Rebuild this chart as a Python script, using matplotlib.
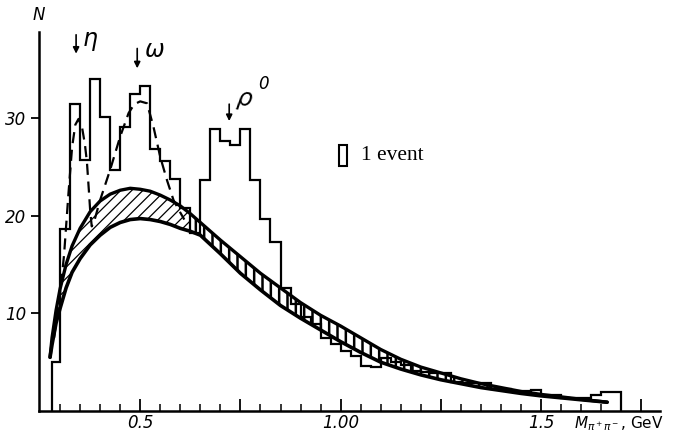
import numpy as np
import matplotlib
matplotlib.use('Agg')
from matplotlib import pyplot as plt
from matplotlib.patches import Rectangle

#--------------------------------------------
# Data
# histogram of M(pi+ pi-), bin edges in GeV
bin_edges = [0.28, 0.300, 0.325, 0.350, 0.375, 0.400, 0.425, 0.450, 0.475,
             0.500, 0.525, 0.550, 0.575, 0.600, 0.625, 0.650, 0.675, 0.700,
             0.725, 0.750, 0.775, 0.800, 0.825, 0.850, 0.875, 0.900, 0.925,
             0.950, 0.975, 1.000, 1.025, 1.050, 1.075, 1.100, 1.125, 1.150,
             1.175, 1.200, 1.225, 1.250, 1.275, 1.300, 1.325, 1.350, 1.375,
             1.400, 1.425, 1.450, 1.475, 1.500, 1.525, 1.550, 1.575, 1.600,
             1.625, 1.650, 1.675, 1.700]
counts = [5.0, 18.6, 31.4, 25.7, 34.0, 30.1, 24.7, 29.1, 32.5,
          33.3, 26.8, 25.6, 23.8, 20.8, 18.2, 23.6, 28.9, 27.6,
          27.2, 28.9, 23.6, 19.7, 17.3, 12.6, 11.0, 9.6, 8.9,
          7.5, 6.9, 6.1, 5.6, 4.6, 4.5, 5.4, 5.0, 4.7,
          4.1, 4.0, 3.9, 3.9, 3.0, 2.9, 2.9, 2.9, 2.3,
          2.3, 2.0, 2.0, 2.1, 1.6, 1.6, 1.3, 1.3, 1.3,
          1.6, 1.9, 1.9]

# phase space band (upper and lower edges)
band_m = [0.275, 0.28, 0.29, 0.30, 0.315, 0.33, 0.35, 0.375, 0.40, 0.425,
          0.45, 0.475, 0.50, 0.525, 0.55, 0.575, 0.60, 0.625, 0.65, 0.70,
          0.75, 0.80, 0.85, 0.90, 0.95, 1.00, 1.05, 1.10, 1.15, 1.20,
          1.25, 1.30, 1.35, 1.40, 1.45, 1.50, 1.55, 1.60, 1.665]
band_upper = [5.5, 7.5, 10.3, 12.5, 15.0, 16.9, 18.7, 20.4, 21.5, 22.2,
              22.6, 22.8, 22.7, 22.5, 22.1, 21.6, 21.0, 20.2, 19.3, 17.5,
              15.8, 14.1, 12.6, 11.1, 9.8, 8.7, 7.5, 6.3, 5.3, 4.5,
              3.9, 3.3, 2.8, 2.4, 2.0, 1.7, 1.45, 1.2, 0.9]
band_lower = [5.5, 6.8, 9.0, 10.5, 12.6, 14.2, 15.6, 17.0, 18.0, 18.8,
              19.3, 19.6, 19.7, 19.6, 19.4, 19.1, 18.7, 18.4, 18.0, 16.1,
              14.1, 12.4, 10.8, 9.5, 8.3, 7.1, 6.0, 5.0, 4.3, 3.7,
              3.2, 2.8, 2.4, 2.1, 1.8, 1.55, 1.35, 1.15, 0.9]

# dashed fit with eta and omega peaks
fit_m = [0.285, 0.30, 0.31, 0.321, 0.330, 0.338, 0.346, 0.355, 0.362,
         0.367, 0.372, 0.375, 0.379, 0.385, 0.40, 0.425, 0.45, 0.471,
         0.485, 0.50, 0.517, 0.533, 0.55, 0.567, 0.583, 0.596, 0.61]
fit_n = [7.5, 12.0, 16.0, 22.3, 27.0, 29.3, 29.9, 29.0, 27.3,
         25.5, 22.5, 20.6, 18.9, 19.4, 21.6, 24.7, 28.1, 30.5,
         31.4, 31.7, 31.5, 29.1, 26.0, 23.6, 21.6, 20.6, 19.6]

x_ticks_major = [0.5, 0.75, 1.0, 1.25, 1.5, 1.75]
x_tick_labels = ['0.5', '', '1.00', '', '1.5', '']
y_ticks = [10, 20, 30]

#--------------------------------------------
# Main code
if __name__ == "__main__":
    fig = plt.figure(figsize=(6.74, 4.32), dpi=100)
    ax = fig.add_axes([0.0579, 0.0486, 0.9214, 0.8773])
    ax.set_xlim(0.2475, 1.797)
    ax.set_ylim(0, 38.8)

    # histogram
    ax.stairs(counts, bin_edges, baseline=0, color='black', lw=1.6, zorder=3)

    # hatched band: thin diagonal on the left, heavier strokes on the right
    band_m_arr = np.array(band_m)
    up = np.array(band_upper)
    lo = np.array(band_lower)
    left = band_m_arr <= 0.625
    right = band_m_arr >= 0.625
    with plt.rc_context({'hatch.linewidth': 0.9}):
        h1 = ax.fill_between(band_m_arr[left], lo[left], up[left],
                             facecolor='none', edgecolor='black',
                             hatch='///', lw=0, zorder=2)
    with plt.rc_context({'hatch.linewidth': 1.8}):
        h2 = ax.fill_between(band_m_arr[right], lo[right], up[right],
                             facecolor='none', edgecolor='black',
                             hatch='||', lw=0, zorder=2)
    if hasattr(h1, 'set_hatch_linewidth'):
        h1.set_hatch_linewidth(0.9)
        h2.set_hatch_linewidth(1.8)
    ax.plot(band_m, band_upper, color='black', lw=2.4, zorder=4,
            solid_capstyle='round')
    ax.plot(band_m, band_lower, color='black', lw=2.6, zorder=4,
            solid_capstyle='round')

    # dashed fit
    ax.plot(fit_m, fit_n, color='black', lw=1.6, ls=(0, (5, 3)), zorder=4)

    # axes style
    for side in ['top', 'right']:
        ax.spines[side].set_visible(False)
    ax.spines['left'].set_linewidth(1.8)
    ax.spines['bottom'].set_linewidth(1.8)
    ax.set_xticks(x_ticks_major)
    ax.set_xticklabels(x_tick_labels, fontstyle='italic', fontsize=12)
    ax.set_xticks(np.arange(0.30, 1.76, 0.05), minor=True)
    ax.tick_params(axis='x', which='major', direction='in', length=9,
                   width=1.3, pad=2)
    ax.tick_params(axis='x', which='minor', direction='in', length=5,
                   width=1.1)
    ax.set_yticks(y_ticks)
    ax.set_yticklabels([str(v) for v in y_ticks], fontstyle='italic',
                       fontsize=12)
    ax.tick_params(axis='y', direction='out', length=6, width=1.3, pad=3)

    ax.text(1.583, -1.25, r'$M_{\pi^+\pi^-}$, GeV', fontsize=11,
            ha='left', va='center', clip_on=False)
    ax.text(0.2475, 39.6, 'N', fontsize=12, fontstyle='italic',
            ha='center', va='bottom', clip_on=False)

    # resonance markers
    arrow = dict(arrowstyle='-|>', color='black', lw=1.2, mutation_scale=9)
    ax.annotate('', xy=(0.340, 36.3), xytext=(0.340, 38.8),
                arrowprops=arrow, annotation_clip=False)
    ax.text(0.355, 37.9, r'$\eta$', fontsize=17, ha='left', va='center')
    ax.annotate('', xy=(0.4925, 34.8), xytext=(0.4925, 37.4),
                arrowprops=arrow, annotation_clip=False)
    ax.text(0.51, 37.0, r'$\omega$', fontsize=17, ha='left', va='center')
    ax.annotate('', xy=(0.722, 29.4), xytext=(0.722, 31.7),
                arrowprops=arrow)
    ax.text(0.735, 31.8, r'$\rho$', fontsize=17, ha='left', va='center',
            rotation=-10)
    ax.text(0.795, 33.5, '0', fontsize=12, fontstyle='italic',
            ha='left', va='center')

    # "1 event" key
    ax.add_patch(Rectangle((0.996, 25.1), 0.02, 2.1, facecolor='none',
                           edgecolor='black', lw=1.5))
    ax.text(1.052, 26.15, '1 event', fontsize=15.5, family='Liberation Serif',
            ha='left', va='center')

    plt.savefig('out.png', dpi=100)
